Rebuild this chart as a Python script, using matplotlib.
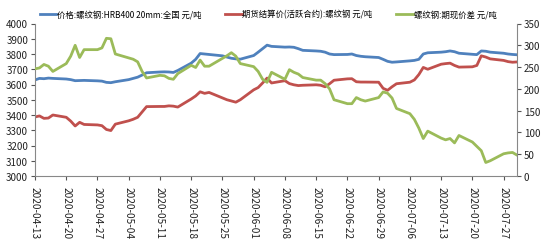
import matplotlib
matplotlib.use("Agg")
import matplotlib.pyplot as plt
import matplotlib.dates as mdates
import numpy as np
import pandas as pd

plt.rcParams['font.family'] = ['Noto Sans CJK SC', 'DejaVu Sans']

dates = pd.bdate_range("2020-04-13", "2020-07-30")

price_spot = [
    3630, 3640, 3638, 3642, 3640,
    3636, 3632, 3625, 3626, 3627,
    3624, 3622, 3614, 3612, 3618,
    3632, 3640, 3648, 3662, 3677,
    3682, 3683, 3682, 3679, 3692,
    3740, 3765, 3803, 3800, 3797,
    3788, 3780, 3772, 3768, 3766,
    3790, 3812, 3835, 3858, 3850,
    3845, 3846, 3844, 3835, 3824,
    3820, 3818, 3812, 3800, 3796,
    3797, 3800, 3790, 3785, 3782,
    3777, 3765, 3752, 3746, 3748,
    3755, 3758, 3765, 3800, 3808,
    3812, 3815, 3820, 3815, 3805,
    3798, 3796, 3820, 3818, 3812,
    3805, 3800, 3797, 3795,
]

price_futures = [
    3387, 3394, 3378, 3380, 3400,
    3385, 3360, 3328, 3352, 3338,
    3335, 3330, 3305, 3298, 3340,
    3362, 3372, 3385, 3420, 3455,
    3456, 3456, 3460, 3458, 3452,
    3505, 3525, 3552, 3542, 3548,
    3512, 3500, 3492, 3484, 3500,
    3565, 3580, 3610, 3642, 3610,
    3625, 3606, 3598, 3593, 3595,
    3598, 3595, 3585, 3605, 3628,
    3637, 3638, 3618, 3616, 3616,
    3615, 3575, 3562, 3585, 3605,
    3615, 3630, 3665, 3712, 3700,
    3733, 3737, 3740, 3725, 3714,
    3716, 3725, 3788, 3780, 3768,
    3758, 3750, 3746, 3748,
]

basis = [
    246, 248, 256, 252, 240,
    258, 275, 300, 272, 290,
    290, 294, 316, 315, 280,
    271, 268, 262, 240, 225,
    231, 230, 224, 222, 235,
    254, 249, 266, 252, 252,
    270, 276, 283, 275, 258,
    251, 240, 222, 215, 238,
    222, 244, 238, 234, 226,
    220, 220, 212, 200, 175,
    166, 166, 180, 175, 172,
    180, 193, 190, 179, 155,
    143, 130, 110, 86, 103,
    87, 83, 86, 76, 93,
    78, 68, 58, 31, 35,
    51, 53, 54, 48,
]

labels = [
    "价格:螺纹钢:HRB400 20mm:全国 元/吨",
    "期货结算价(活跃合约):螺纹钢 元/吨",
    "螺纹钢:期现价差 元/吨",
]
colors = ["#4F81BD", "#C0504D", "#9BBB59"]

fig = plt.figure(figsize=(5.5, 2.51), dpi=100)
ax = fig.add_axes([35/550, 1-177/251, (517-35)/550, (177-24.5)/251])
ax2 = ax.twinx()

l1, = ax.plot(dates, price_spot, color=colors[0], lw=2.0, label=labels[0])
l2, = ax.plot(dates, price_futures, color=colors[1], lw=2.0, label=labels[1])
l3, = ax2.plot(dates, basis, color=colors[2], lw=2.0, label=labels[2])

ax.set_ylim(3000, 4000)
ax.set_yticks(np.arange(3000, 4001, 100))
ax2.set_ylim(0, 350)
ax2.set_yticks(np.arange(0, 351, 50))
ax.set_xlim(pd.Timestamp("2020-04-13"), pd.Timestamp("2020-07-30"))
ax.xaxis.set_major_locator(mdates.WeekdayLocator(byweekday=mdates.MO, interval=1))
ax.xaxis.set_major_formatter(mdates.DateFormatter("%Y-%m-%d"))
for lab in ax.get_xticklabels():
    lab.set_rotation(-90)

for a in (ax, ax2):
    a.spines["top"].set_visible(False)
    a.tick_params(labelsize=7, length=3, width=0.8, colors="#555555", labelcolor="#222222", pad=2)
ax.spines["right"].set_visible(False)
ax2.spines["left"].set_visible(False)
ax2.spines["bottom"].set_visible(False)
for s in ("left", "bottom"):
    ax.spines[s].set_color("#888888")
ax2.spines["right"].set_color("#888888")
ax.tick_params(axis="x", labelsize=7.3, pad=4)

fig.legend(handles=[l1, l2, l3], labels=labels, loc="center",
           bbox_to_anchor=(268/550, 1-15/251), ncol=3, frameon=False, fontsize=6.0,
           handlelength=2.0, handletextpad=0.1, columnspacing=2.8)

fig.savefig("out.png", dpi=100)
